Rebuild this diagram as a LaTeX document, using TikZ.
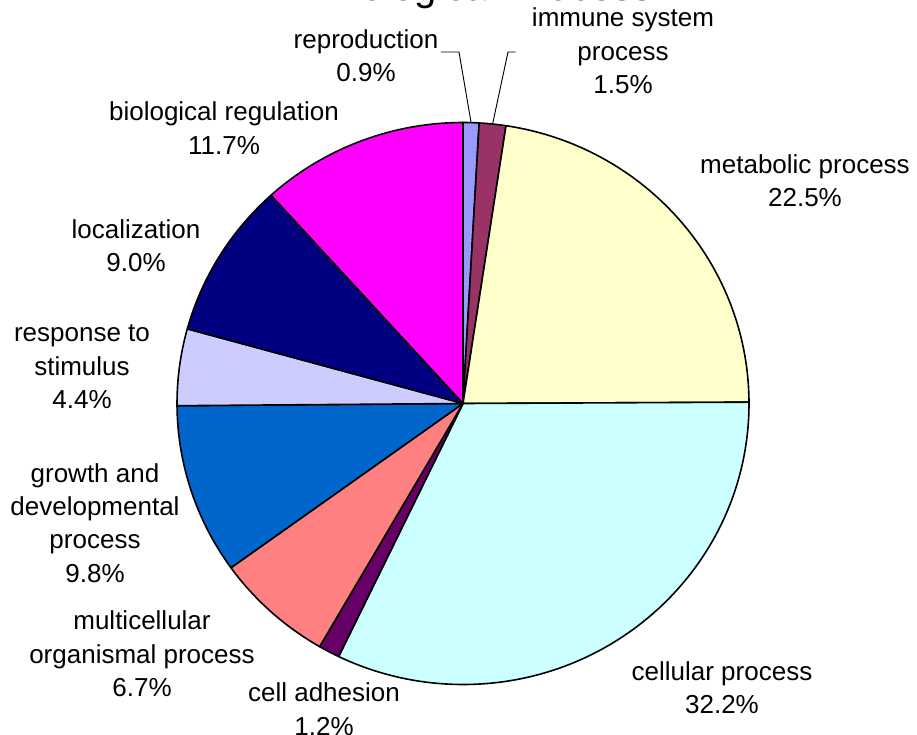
\documentclass[tikz,border=0pt]{standalone}
\usepackage{fontspec}
\setmainfont{Liberation Sans}
\definecolor{repro}{HTML}{9999FF}
\definecolor{immune}{HTML}{993366}
\definecolor{metab}{HTML}{FFFFCC}
\definecolor{cellular}{HTML}{CCFFFF}
\definecolor{adhesion}{HTML}{660066}
\definecolor{multi}{HTML}{FF8080}
\definecolor{growth}{HTML}{0066CC}
\definecolor{response}{HTML}{CCCCFF}
\definecolor{local}{HTML}{000080}
\definecolor{bioreg}{HTML}{FF00FF}
\begin{document}
\begin{tikzpicture}[x=0.75pt, y=-0.75pt,
    slice/.style={draw=black, line width=1.2pt, line join=round},
    lbl/.style={align=center, inner sep=2pt, font=\fontsize{19.5}{25}\selectfont},
    leader/.style={draw=black, line width=0.7pt}]
			\useasboundingbox (0,0) rectangle (917,735);
			\clip (0,0) rectangle (917,735);
			% title, mostly cut off by the top edge
			\node[anchor=base, inner sep=0pt, font=\fontsize{30}{36}\selectfont] (title) at (489,1) {Biological Process};
			% pie slices, clockwise from the top
			\coordinate (c) at (463,403.5);
			\draw[slice, fill=repro] (c) -- ++(-90:286 and 281) arc[start angle=-90, end angle=-86.76, x radius=286, y radius=281] -- cycle;
			\draw[slice, fill=immune] (c) -- ++(-86.76:286 and 281) arc[start angle=-86.76, end angle=-81.35, x radius=286, y radius=281] -- cycle;
			\draw[slice, fill=metab] (c) -- ++(-81.35:286 and 281) arc[start angle=-81.35, end angle=-0.27, x radius=286, y radius=281] -- cycle;
			\draw[slice, fill=cellular] (c) -- ++(-0.27:286 and 281) arc[start angle=-0.27, end angle=115.77, x radius=286, y radius=281] -- cycle;
			\draw[slice, fill=adhesion] (c) -- ++(115.77:286 and 281) arc[start angle=115.77, end angle=120.09, x radius=286, y radius=281] -- cycle;
			\draw[slice, fill=multi] (c) -- ++(120.09:286 and 281) arc[start angle=120.09, end angle=144.23, x radius=286, y radius=281] -- cycle;
			\draw[slice, fill=growth] (c) -- ++(144.23:286 and 281) arc[start angle=144.23, end angle=179.55, x radius=286, y radius=281] -- cycle;
			\draw[slice, fill=response] (c) -- ++(179.55:286 and 281) arc[start angle=179.55, end angle=195.41, x radius=286, y radius=281] -- cycle;
			\draw[slice, fill=local] (c) -- ++(195.41:286 and 281) arc[start angle=195.41, end angle=227.84, x radius=286, y radius=281] -- cycle;
			\draw[slice, fill=bioreg] (c) -- ++(227.84:286 and 281) arc[start angle=227.84, end angle=270, x radius=286, y radius=281] -- cycle;
			% labels
			\node[lbl] (repro) at (366,56) {reproduction\\0.9\%};
			\node[lbl] (immune) at (623,51) {immune system\\process\\1.5\%};
			\node[lbl] (metab) at (805,181) {metabolic process\\22.5\%};
			\node[lbl] (cellular) at (722,688) {cellular process\\32.2\%};
			\node[lbl] (adhesion) at (324,709) {cell adhesion\\1.2\%};
			\node[lbl] (multi) at (142,654) {multicellular\\organismal process\\6.7\%};
			\node[lbl] (growth) at (95,523) {growth and\\developmental\\process\\9.8\%};
			\node[lbl] (response) at (82,367) {response to\\stimulus\\4.4\%};
			\node[lbl] (local) at (136,246) {localization\\9.0\%};
			\node[lbl] (bioreg) at (224,128) {biological regulation\\11.7\%};
			% leader lines for the two thin slices
			\path (c) ++(-88.38:286 and 281) coordinate (reproedge);
			\path (c) ++(-84.06:286 and 281) coordinate (immedge);
			\coordinate (reprobend) at (459,52);
			\coordinate (immbend) at (508,52);
			\draw[leader] (repro.east |- reprobend) -- (reprobend) -- (reproedge);
			\draw[leader] ([xshift=-10pt]immune.west |- immbend) -- (immbend) -- (immedge);
		\end{tikzpicture}
\end{document}
